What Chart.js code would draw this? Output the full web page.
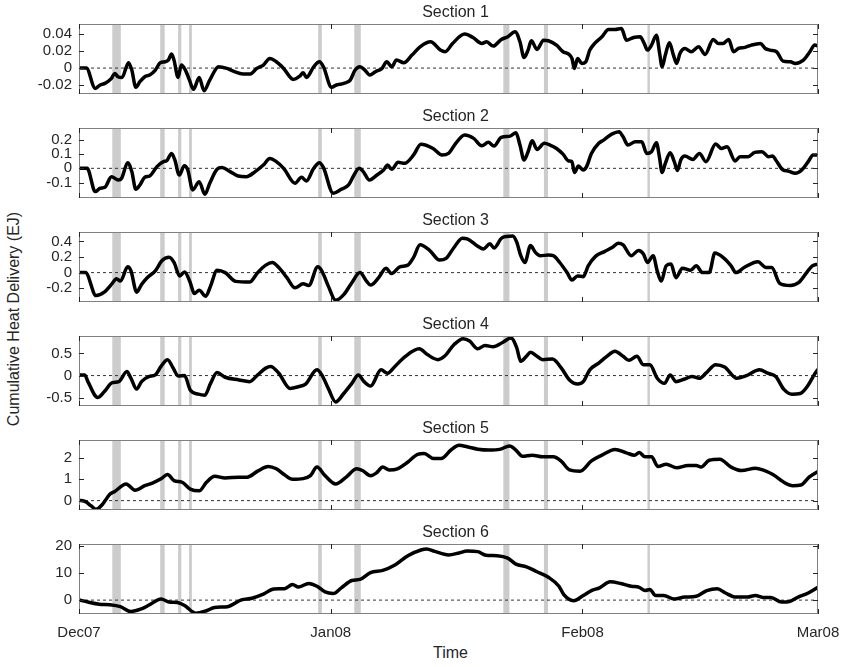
<!DOCTYPE html>
<html>
<head>
<meta charset="utf-8">
<script src="https://cdn.jsdelivr.net/npm/chart.js@4.4.0/dist/chart.umd.min.js"></script>
<style>
  body{margin:0;background:#fff;}
  #fig{position:relative;width:843px;height:667px;overflow:hidden;background:#fff;
       font-family:"Liberation Sans",Arial,Helvetica,sans-serif;color:#262626;}
  #fig canvas{position:absolute;left:0;}
  .ttl{position:absolute;left:86px;width:739px;text-align:center;font-size:16px;line-height:17px;}
  #ylab{position:absolute;left:-136px;top:309px;width:300px;text-align:center;font-size:16px;
        line-height:20px;transform:rotate(-90deg);}
  #xlab{position:absolute;left:79px;width:743px;top:644px;text-align:center;font-size:16px;line-height:18px;}
</style>
</head>
<body>
<div id="fig">
  <div id="ylab">Cumulative Heat Delivery (EJ)</div>
  <div id="xlab">Time</div>
</div>
<script>
// ========== DATA (days since 1 Dec 2007) ==========
const monthDays   = [0, 31, 62, 91];
const monthLabels = ['Dec07', 'Jan08', 'Feb08', 'Mar08'];

// grey shaded events
const bandStart = [4.1, 10.0, 12.2, 13.55, 29.45, 33.9, 52.25, 57.25, 70.0];
const bandEnd   = [5.15, 10.55, 12.6, 13.9, 29.9, 34.7, 53.0, 57.75, 70.3];

const sectionNames = ['Section 1','Section 2','Section 3','Section 4','Section 5','Section 6'];

const s1Days = [0,0.9,2,2.6,3.2,4,4.4,4.8,5.3,6.1,6.5,7,7.5,8.1,8.7,9.4,10,10.6,11,11.4,11.7,12.2,12.6,13.1,13.6,14.1,14.8,15.4,16.1,17.2,18.2,19,20.2,21.1,21.9,22.7,23.5,24.3,25.2,26.4,27.2,27.6,28,28.9,29.6,30.1,31.1,31.7,32.6,33.4,34,34.6,35.2,35.8,36.5,37.3,37.9,38.5,39.1,40,41,42,43.3,44.5,45.1,46,47.5,48.5,49.6,50.2,51,52,52.8,53.7,54.3,54.8,55.3,55.7,56.4,57.2,57.8,58.8,59.6,60.3,60.7,61,61.4,61.9,62.4,62.9,63.5,64.4,65.2,66,66.8,67.4,68.3,69.1,69.6,70,70.5,71.1,71.5,71.8,72.2,72.7,73.2,73.6,74,74.6,75.4,76.3,77.1,78.1,78.7,79.3,80,80.6,81.2,82,82.8,83.9,84.5,85.1,85.9,86.7,87.6,88.2,89.2,90,90.6,91];
const s1Vals = [0,0,-0.0235,-0.0196,-0.0177,-0.0119,-0.0062,-0.010,-0.0108,0.0062,-0.0023,-0.0223,-0.0158,-0.010,-0.0081,-0.0023,0.0062,0.0073,0.0092,0.0162,0.0092,-0.0108,0.0035,-0.0023,-0.0139,-0.0246,-0.0108,-0.0262,-0.0139,0.0015,-0.0004,-0.0035,-0.0069,-0.0069,-0.0004,0.0035,0.0112,0.0073,-0.0004,-0.0131,-0.0092,-0.0054,-0.0108,0.0015,0.0073,0.0015,-0.0223,-0.0196,-0.0177,-0.0139,-0.0023,0.0015,-0.0023,-0.0081,-0.0042,-0.0004,0.0073,0.0015,0.0092,0.0062,0.015,0.0246,0.0304,0.0208,0.0189,0.0285,0.0393,0.0354,0.0285,0.0304,0.0254,0.0331,0.0362,0.042,0.0304,0.0123,0.0208,0.0316,0.0216,0.0323,0.0316,0.0266,0.0189,0.0162,0.0112,-0.0004,0.0112,0.0054,0.0073,0.0208,0.0285,0.0362,0.0447,0.0447,0.0458,0.0323,0.0354,0.0362,0.0285,0.0208,0.0266,0.0381,0.0169,0.0015,0.015,0.0293,0.015,0.0054,0.0169,0.0227,0.0189,0.0246,0.0158,0.0331,0.0285,0.0285,0.0331,0.0189,0.0227,0.0239,0.0266,0.0285,0.0227,0.0208,0.0189,0.0081,0.0073,0.0054,0.0092,0.0189,0.0266,0.0254];

const s2Days = [0,1,2,2.6,3.2,4,4.85,5.25,6,6.5,7,7.5,8.1,8.7,9.6,10.4,10.8,11.4,11.8,12.35,12.97,13.4,14,14.8,15.5,16.1,17,17.6,18.6,19.6,20.6,21.7,22.7,23.5,24.3,25.2,26.6,27.4,28,28.9,29.6,30.1,31.3,32.3,33.2,33.8,34.5,35,35.75,36.7,37.5,38,38.5,39.3,40.1,41.2,42.1,43.6,44.7,45.5,46.3,47.5,48.6,49.6,50.4,51.1,52,53.1,53.8,54.3,54.8,55.3,55.8,56.4,57.3,58,58.8,59.6,60.3,60.7,61,61.5,62.1,62.5,63.1,64,64.6,65.6,66.5,67,67.6,68.5,69.3,69.9,70.5,71.1,71.5,71.8,72.2,72.8,73.3,73.7,74.1,74.6,75.6,76.4,77.2,78.4,79.1,79.8,80.8,81.4,82.4,83.2,84.1,84.9,85.4,85.8,86.7,87.3,88.2,89,89.8,90.4,91];
const s2Vals = [0,0,-0.164,-0.14,-0.133,-0.059,-0.082,-0.07,0.04,-0.023,-0.148,-0.117,-0.063,-0.054,0.012,0.047,0.054,0.105,0.059,-0.047,0.019,-0.012,-0.152,-0.094,-0.183,-0.105,-0.007,0.005,-0.023,-0.054,-0.059,-0.023,0.023,0.07,0.047,0,-0.105,-0.063,-0.089,0,0.04,0.005,-0.176,-0.148,-0.117,-0.054,0,-0.023,-0.082,-0.047,-0.012,0.023,-0.007,0.042,0.035,0.094,0.17,0.14,0.094,0.105,0.169,0.234,0.211,0.159,0.183,0.157,0.218,0.227,0.25,0.164,0.059,0.117,0.194,0.133,0.176,0.164,0.14,0.10,0.052,0.047,-0.03,0.016,-0.012,0.012,0.105,0.176,0.199,0.241,0.258,0.222,0.164,0.187,0.187,0.105,0.117,0.18,0.07,-0.03,0.035,0.11,0.047,-0.016,0.059,0.087,0.063,0.105,0.047,0.171,0.14,0.152,0.052,0.082,0.082,0.112,0.117,0.082,0.087,0.059,-0.012,-0.019,-0.035,-0.012,0.047,0.094,0.094];

const s3Days = [0,0.8,2.1,3.1,4.1,4.6,5.1,6,6.4,7.1,7.7,8.4,9.4,10.2,11.1,11.7,12.4,13,13.7,14.2,14.8,15.6,16.2,17,18,19.3,21,22,23,23.8,24.6,25.6,26.6,27.6,28.3,29.4,29.9,30.7,31.6,32.6,33.6,34.6,35.4,35.9,36.9,37.8,38.5,39.5,40.5,41.2,42,43.2,44.4,45.2,46.2,47.2,47.8,49.1,49.8,50.6,51.1,52.1,53.4,53.9,54.4,54.9,55.6,56.2,56.8,57.8,58.4,59.2,60.1,60.7,61.4,62.1,62.7,63.6,64.7,65.7,66.4,67,68,68.9,69.5,70,70.7,71.2,71.7,72.3,72.9,73.5,74.3,75.3,76,76.8,77.6,78.3,79.3,80.3,80.9,81.9,83.6,84.6,85.3,86.3,87.6,88.6,89.6,90.3,91];
const s3Vals = [0,0,-0.296,-0.252,-0.139,-0.078,-0.109,0.074,0.022,-0.252,-0.152,-0.065,0.022,0.152,0.196,0.13,-0.043,0.009,-0.13,-0.27,-0.226,-0.304,-0.174,0.03,0,-0.113,-0.122,0,0.096,0.13,0.065,-0.065,-0.196,-0.143,-0.165,0.074,0.022,-0.174,-0.357,-0.283,-0.13,0,-0.109,-0.161,-0.065,0.057,-0.013,0.074,0.096,0.196,0.357,0.283,0.161,0.183,0.326,0.443,0.435,0.339,0.304,0.37,0.317,0.448,0.47,0.391,0.217,0.13,0.348,0.26,0.217,0.226,0.217,0.13,0,-0.096,-0.043,-0.052,0.087,0.209,0.27,0.326,0.378,0.357,0.217,0.283,0.239,0.13,0.217,0.022,-0.109,0.087,0.109,-0.065,0.057,0.03,0.087,0,0,0.252,0.196,0.087,0,0.065,0.139,0.065,0.065,-0.139,-0.165,-0.13,0,0.087,0.109];

const s4Days = [0,0.7,1.1,2.3,3.1,4.1,4.9,5.9,6.4,7.1,7.7,8.6,9.4,10.1,10.9,11.6,12.2,13,13.7,14.7,15.5,16.2,17,18,19.7,21,22,23,23.6,24.6,26,27,27.9,29.3,29.9,30.7,31.6,32.6,33.6,34.4,35.1,35.9,37.2,38,38.9,40.2,41.9,42.9,44.2,45,46.2,47.3,48.1,49.1,50,51,52.1,53.2,53.9,54.4,55.1,55.6,56.4,57.1,58.3,59.4,60.4,61.4,62.1,62.9,64,65,66,67,67.7,68.7,69.5,70.3,71.2,72.1,72.8,73.5,74.5,75.5,76.4,77.2,78.4,79.5,81,82.1,83.8,84.8,85.8,86.8,87.8,88.8,89.8,90.4,91];
const s4Vals = [0.015,0.015,-0.137,-0.496,-0.366,-0.16,-0.137,0.092,-0.061,-0.305,-0.137,-0.023,0.015,0.206,0.359,0.168,-0.008,0,-0.328,-0.42,-0.443,-0.176,0.069,-0.038,-0.099,-0.137,0.015,0.168,0.206,0.053,-0.29,-0.252,-0.191,0.13,0.015,-0.29,-0.595,-0.405,-0.176,0.015,-0.137,-0.237,0.13,0.053,0.206,0.435,0.603,0.473,0.359,0.435,0.702,0.832,0.779,0.603,0.679,0.649,0.74,0.847,0.626,0.321,0.435,0.527,0.435,0.359,0.374,0.168,-0.099,-0.191,-0.137,0.13,0.282,0.435,0.55,0.435,0.344,0.435,0.244,0.244,-0.061,-0.176,0.015,-0.137,-0.084,-0.023,-0.061,0.053,0.244,0.191,-0.061,-0.008,0.13,0.053,-0.023,-0.313,-0.42,-0.405,-0.214,-0.023,0.145];

const s5Days = [0,0.8,1.5,2.1,2.9,3.8,4.4,5.8,6.9,8.1,9.1,10.1,10.9,11.7,12.7,13.7,14.8,15.7,16.7,18,19.7,20.7,22,23.3,24.3,25.3,26.3,27.6,28.5,29.3,30.3,31.6,32.9,34.2,34.9,35.9,36.6,37.4,38.2,39.2,40.5,41.7,42.5,43.7,44.6,45.8,46.8,47.8,49.1,50.5,51.8,53,53.8,54.6,55.8,57.1,58.4,59.4,60.4,61.7,63.1,64.4,66,67.4,68.4,69,69.7,70.5,71.3,72.3,73.6,75,76,76.6,77.6,78.9,80.3,81.6,83.3,84.2,85.5,86.8,87.9,88.9,89.9,91];
const s5Vals = [0.02,-0.05,-0.25,-0.41,-0.17,0.3,0.43,0.78,0.49,0.7,0.83,1.02,1.22,0.94,0.86,0.54,0.46,0.86,1.14,1.06,1.1,1.1,1.38,1.6,1.49,1.21,1.0,1.03,1.17,1.57,1.17,0.78,1.1,1.49,1.41,1.17,1.29,1.57,1.44,1.49,1.81,2.17,2.21,1.97,1.97,2.37,2.59,2.52,2.41,2.37,2.4,2.56,2.37,2.08,2.13,2.05,2.05,1.84,1.44,1.38,1.86,2.13,2.4,2.24,2.13,2.25,2.05,2.05,1.6,1.7,1.54,1.65,1.65,1.57,1.89,1.94,1.57,1.41,1.52,1.44,1.21,0.86,0.7,0.73,1.1,1.37];

const s6Days = [0,1.1,2.5,3.8,5.1,6.4,7.7,8.7,10.1,11.1,12.1,13,14.4,15.7,16.7,18.3,20,21.3,22.7,24,25.3,26.3,27,28.3,29.3,30.3,31.3,32.3,33.6,34.6,35.9,37.4,38.9,40.5,42.2,42.8,43.8,45.5,46.8,47.8,49.1,50.1,51.5,52.8,53.8,55.1,56.4,57.8,59.1,59.7,60.9,62.1,63.1,64.1,65.4,66.7,68,69,69.7,70.3,71,72,73.3,74.6,76,77.3,78.6,79.6,80.9,82.3,83.3,84.2,85.2,86.5,87.5,88.5,89.8,91];
const s6Vals = [0.1,-0.7,-1.5,-1.7,-2.4,-4.2,-3.2,-1.7,0.4,-0.7,-0.9,-2.0,-4.8,-3.9,-2.7,-2.4,0.1,0.7,2.2,4.1,4.2,5.7,4.8,6.1,5.1,3.0,2.4,4.5,7.2,7.6,10.1,10.9,12.9,16.3,18.5,18.8,17.9,16.6,17.3,18.0,17.8,16.5,16.3,15.4,13.2,12.2,10.4,8.4,5.1,2.0,-0.2,1.7,3.5,4.5,6.7,6.1,5.1,4.7,3.5,3.9,1.7,1.7,0.4,1.1,1.4,3.5,4.2,2.6,1.1,1.1,1.7,1.0,1.0,-0.7,-0.5,1.0,2.6,4.7];

// y limits and ticks per section
const yMins  = [-0.030, -0.209, -0.378, -0.687, -0.44, -5.1];
const yMaxs  = [0.051, 0.284, 0.522, 0.893, 2.84, 20.6];
const yTicks = [[-0.02,0,0.02,0.04], [-0.1,0,0.1,0.2], [-0.2,0,0.2,0.4], [-0.5,0,0.5], [0,1,2], [0,10,20]];

const allDays = [s1Days, s2Days, s3Days, s4Days, s5Days, s6Days];
const allVals = [s1Vals, s2Vals, s3Vals, s4Vals, s5Vals, s6Vals];

// ========== LAYOUT ==========
const PLOT_LEFT = 79, PLOT_RIGHT = 818, PLOT_H = 70, PAD = 10, XAXIS_H = 30;
const panelTops = [24, 128, 232, 336, 440, 544];
const INK = '#262626';
const FONT = {family:'"Liberation Sans", Arial, Helvetica, sans-serif', size:15};

// grey bands + MATLAB-style box with inward ticks
const framePlugin = {
  id:'frame',
  beforeDatasetsDraw(chart){
    const {ctx, chartArea:a, scales:{x}} = chart;
    ctx.save();
    ctx.fillStyle = '#cccccc';
    bandStart.forEach((s,i)=>{
      const x0 = x.getPixelForValue(s), x1 = x.getPixelForValue(bandEnd[i]);
      ctx.fillRect(x0, a.top, x1-x0, a.bottom-a.top);
    });
    ctx.restore();
  },
  afterDraw(chart){
    const {ctx, chartArea:a, scales:{x,y}} = chart;
    ctx.save();
    ctx.strokeStyle = '#808080'; ctx.lineWidth = 1;
    ctx.strokeRect(a.left+0.5, a.top+0.5, a.width-1, a.height-1);
    ctx.strokeStyle = INK;
    ctx.beginPath();
    y.ticks.forEach(t=>{
      const p = Math.round(y.getPixelForValue(t.value))+0.5;
      ctx.moveTo(a.left, p);  ctx.lineTo(a.left+5, p);
      ctx.moveTo(a.right, p); ctx.lineTo(a.right-5, p);
    });
    monthDays.forEach(d=>{
      const p = Math.round(x.getPixelForValue(d))+0.5;
      ctx.moveTo(p, a.top);    ctx.lineTo(p, a.top+5);
      ctx.moveTo(p, a.bottom); ctx.lineTo(p, a.bottom-5);
    });
    ctx.stroke();
    ctx.restore();
  }
};

function makePanel(i){
  const fig = document.getElementById('fig');
  const last = i === panelTops.length-1;
  const cv = document.createElement('canvas');
  const h = PAD + PLOT_H + (last ? XAXIS_H : PAD);
  cv.width = 843; cv.height = h;
  cv.style.top = (panelTops[i]-PAD)+'px';
  cv.style.width = '843px'; cv.style.height = h+'px';
  fig.appendChild(cv);

  const ttl = document.createElement('div');
  ttl.className = 'ttl';
  ttl.style.top = (panelTops[i]-21)+'px';
  ttl.textContent = sectionNames[i];
  fig.appendChild(ttl);

  const pts = allDays[i].map((d,k)=>({x:d, y:allVals[i][k]}));

  new Chart(cv, {
    type:'line',
    data:{datasets:[
      {data:pts, borderColor:'#000', borderWidth:3.5, pointRadius:0,
       cubicInterpolationMode:'monotone', order:0},
      {data:[{x:monthDays[0],y:0},{x:monthDays[monthDays.length-1],y:0}],
       borderColor:'#333', borderWidth:1, borderDash:[3,3], pointRadius:0, order:1}
    ]},
    options:{
      responsive:false, animation:false, events:[],
      layout:{padding:{left:0, right:843-PLOT_RIGHT, top:PAD, bottom:last?0:PAD}},
      plugins:{legend:{display:false}, tooltip:{enabled:false}},
      scales:{
        x:{type:'linear', min:monthDays[0], max:monthDays[monthDays.length-1], display:last,
           grid:{display:false, drawTicks:false}, border:{display:false},
           afterBuildTicks:s=>{ s.ticks = monthDays.map(v=>({value:v})); },
           afterFit:s=>{ s.paddingLeft = 0; s.paddingRight = 0; if(last) s.height = XAXIS_H; },
           ticks:{autoSkip:false, maxRotation:0, padding:10, color:INK, font:FONT,
                  callback:(v,k)=>monthLabels[k]}},
        y:{min:yMins[i], max:yMaxs[i],
           grid:{display:false, drawTicks:false}, border:{display:false},
           afterBuildTicks:s=>{ s.ticks = yTicks[i].map(v=>({value:v})); },
           afterFit:s=>{ s.width = PLOT_LEFT; s.paddingTop = 0; s.paddingBottom = 0; },
           ticks:{padding:7, color:INK, font:FONT, callback:v=>String(v)}}
      }
    },
    plugins:[framePlugin]
  });
}

panelTops.forEach((_,i)=>makePanel(i));
</script>
</body>
</html>
